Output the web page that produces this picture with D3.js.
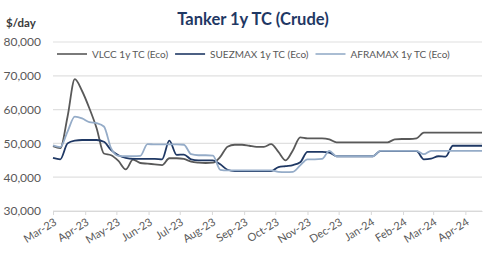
<!DOCTYPE html>
<html>
<head>
<meta charset="utf-8">
<script src="https://cdn.jsdelivr.net/npm/d3@7"></script>
<style>
  body { margin: 0; background: #fff; }
  text { font-family: Lato, "Open Sans", sans-serif; }
</style>
</head>
<body>
<div id="chart"></div>
<script>
// weekly fixtures, first week of Mar-23 to mid Apr-24
var startDate = new Date(2023, 2, 3);
var endDate = new Date(2024, 3, 19);
var weeks = d3.timeDay.range(startDate, d3.timeDay.offset(endDate, 1), 7);

var seriesNames = ["VLCC 1y TC (Eco)", "SUEZMAX 1y TC (Eco)", "AFRAMAX 1y TC (Eco)"];

var vlcc = [49200, 48600, 57900, 69000, 65500, 60400, 54500, 47000, 46500, 44800,
            42300, 45200, 44200, 44000, 43800, 43600, 45600, 45600, 45400, 44600,
            44300, 44200, 44300, 46000, 49000, 49600, 49600, 49300, 49000, 49000,
            49800, 47500, 45000, 48000, 51800, 51500, 51500, 51500, 51200, 50300,
            50300, 50300, 50300, 50300, 50300, 50300, 50300, 51200, 51300, 51300,
            51500, 53200, 53200, 53200, 53200, 53200, 53200, 53200, 53200, 53200];

var suezmax = [45700, 45300, 50000, 50800, 51000, 51000, 51000, 50500, 48000, 46500,
               45700, 45400, 45400, 45400, 45400, 45300, 50800, 46600, 46700, 45300,
               45000, 45000, 45000, 43800, 42200, 41800, 41800, 41800, 41800, 41800,
               41800, 43000, 43300, 43600, 44400, 47500, 47500, 47500, 47300, 46200,
               46200, 46200, 46200, 46200, 46200, 47700, 47700, 47700, 47700, 47700,
               47700, 45300, 45500, 46200, 46100, 49300, 49300, 49300, 49300, 49300];

var aframax = [49400, 48900, 53500, 57900, 57400, 56300, 56000, 55000, 48500, 46300,
               46200, 46200, 46300, 49800, 49700, 49700, 49700, 49700, 49600, 46800,
               46500, 46500, 46400, 42200, 42000, 42000, 42000, 42000, 42000, 42000,
               42000, 41600, 41500, 41600, 43500, 45300, 45300, 45400, 47800, 46200,
               46200, 46200, 46200, 46200, 46200, 47800, 47800, 47800, 47800, 47800,
               47800, 46800, 47800, 47800, 47800, 47800, 47800, 47800, 47800, 47800];

var yTicks = [30000, 40000, 50000, 60000, 70000, 80000];
var monthTicks = d3.range(0, 14).map(function(m) { return new Date(2023, 2 + m, 3); });

var colors = ["#595959", "#1f3864", "#95acc8"];

var svgWidth = 500;
var svgHeight = 267;
var margin = { top: 42, right: 18, bottom: 56, left: 53 };
var chartWidth = svgWidth - margin.left - margin.right;
var chartHeight = svgHeight - margin.top - margin.bottom;

var svg = d3.select("#chart")
  .append("svg")
  .attr("width", svgWidth)
  .attr("height", svgHeight);

// title + unit
svg.append("text")
  .attr("x", 253)
  .attr("y", 25)
  .attr("text-anchor", "middle")
  .style("font-size", "16.5px")
  .style("font-weight", "bold")
  .style("fill", "#1f3864")
  .text("Tanker 1y TC (Crude)");

svg.append("text")
  .attr("x", 6)
  .attr("y", 27)
  .style("font-size", "11.5px")
  .style("font-weight", "bold")
  .style("fill", "#3a3a3a")
  .text("$/day");

var chartGroup = svg.append("g")
  .attr("transform", "translate(" + margin.left + "," + margin.top + ")");

var xScale = d3.scaleTime()
  .domain([startDate, endDate])
  .range([0, chartWidth]);

var yScale = d3.scaleLinear()
  .domain([30000, 80000])
  .range([chartHeight, 0]);

// gridlines
chartGroup.append("g")
  .selectAll("line")
  .data(yTicks)
  .enter()
  .append("line")
  .attr("x1", 0)
  .attr("x2", chartWidth)
  .attr("y1", d => yScale(d))
  .attr("y2", d => yScale(d))
  .attr("stroke", "#e0e0e0")
  .attr("stroke-width", 1.2);

// y labels
var leftAxis = d3.axisLeft(yScale)
  .tickValues(yTicks)
  .tickFormat(d3.format(","))
  .tickSize(0)
  .tickPadding(12);

var yAxis = chartGroup.append("g").call(leftAxis);
yAxis.select(".domain").remove();
yAxis.selectAll("text")
  .style("font-size", "12px")
  .style("font-family", "Lato, sans-serif")
  .style("fill", "#595959");

// x axis
var bottomAxis = d3.axisBottom(xScale)
  .tickValues(monthTicks)
  .tickFormat(d3.timeFormat("%b-%y"))
  .tickSize(4)
  .tickSizeOuter(0);

var xAxis = chartGroup.append("g")
  .attr("transform", "translate(0," + chartHeight + ")")
  .call(bottomAxis);
xAxis.select(".domain").attr("stroke", "#d9d9d9").attr("stroke-width", 1.2);
xAxis.selectAll(".tick line").attr("stroke", "#d9d9d9");
xAxis.selectAll("text")
  .attr("text-anchor", "end")
  .attr("dy", "0")
  .attr("y", 0)
  .attr("transform", "translate(4,13) rotate(-32)")
  .style("font-size", "11px")
  .style("font-family", "Lato, sans-serif")
  .style("fill", "#595959");

// lines
var allSeries = [vlcc, suezmax, aframax];
var line = d3.line()
  .x((d, i) => xScale(weeks[i]))
  .y(d => yScale(d))
  .curve(d3.curveMonotoneX);

chartGroup.selectAll(".series")
  .data(allSeries)
  .enter()
  .append("path")
  .attr("class", "series")
  .attr("d", d => line(d))
  .attr("fill", "none")
  .attr("stroke", (d, i) => colors[i])
  .attr("stroke-width", 1.8);

// legend
var legend = svg.append("g").attr("transform", "translate(0,54)");
var lx = 57;
seriesNames.forEach(function(name, i) {
  legend.append("line")
    .attr("x1", lx).attr("x2", lx + 30)
    .attr("y1", 0).attr("y2", 0)
    .attr("stroke", colors[i])
    .attr("stroke-width", 1.6);
  var t = legend.append("text")
    .attr("x", lx + 35)
    .attr("y", 3.5)
    .style("font-size", "10px")
    .style("fill", "#595959")
    .text(name);
  lx += 35 + t.node().getComputedTextLength() + 7;
});
</script>
</body>
</html>
